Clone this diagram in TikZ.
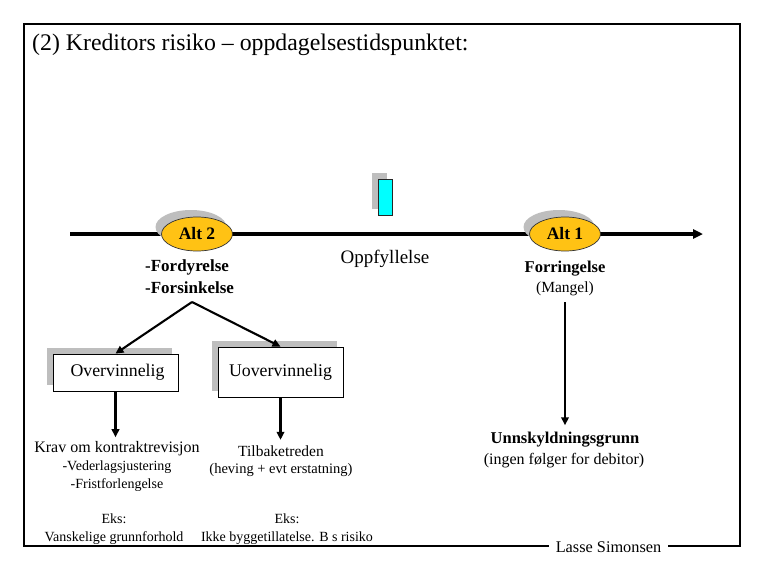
\documentclass[tikz,border=0pt]{standalone}
\usepackage{fontspec}
\setmainfont{Liberation Serif}
\usetikzlibrary{arrows.meta,shapes.geometric,shadows}
\definecolor{altgold}{RGB}{255,194,20}
\definecolor{shadowgray}{RGB}{190,190,190}
\definecolor{cyanbox}{RGB}{0,255,255}
\newcommand{\fsz}[2]{\fontsize{#1}{#2}\selectfont}
\begin{document}
\begin{tikzpicture}[x=1pt,y=-1pt,
  txt/.style={inner sep=0pt, align=center},
  altnode/.style={ellipse, draw=black!80, line width=0.7pt, fill=altgold,
    minimum width=71pt, minimum height=34pt, inner sep=0pt,
    font=\bfseries\fsz{17.5}{20},
    drop shadow={shadow xshift=-6pt, shadow yshift=7pt, fill=shadowgray, opacity=1}},
  boxnode/.style={rectangle, draw=black, line width=0.8pt, fill=white,
    minimum width=125pt, inner sep=0pt, font=\fsz{17.8}{20},
    drop shadow={shadow xshift=-6pt, shadow yshift=6pt, fill=shadowgray, opacity=1}},
  arr/.style={line width=2.1pt, -{Triangle[length=8pt,width=7.5pt]}},
]
\useasboundingbox (0,0) rectangle (765,570);
\fill[white] (0,0) rectangle (765,570);

% frame
\draw[line width=1.3pt] (24,24) rectangle (740,546);

% title
\node[txt, anchor=west, font=\fsz{23.8}{26}] (title) at (32,45) {(2) Kreditors risiko -- oppdagelsestidspunktet:};

% timeline
\coordinate (tl0) at (70,234);
\coordinate (tl1) at (703,234);
\draw[line width=3.5pt, -{Triangle[length=10pt,width=9pt]}] (tl0) -- (tl1);

% Oppfyllelse marker
\fill[shadowgray] (372,173) rectangle (387,209);
\draw[fill=cyanbox, draw=black!85, line width=0.8pt] (378,179) rectangle (392,215);

% ellipses
\node[altnode] (alt2) at (197,234) {Alt 2};
\node[altnode] (alt1) at (565,234) {Alt 1};

% labels under timeline
\node[txt, anchor=north west, align=left, font=\bfseries\fsz{17}{22}] (fors) at (145,259) {-Fordyrelse\\-Forsinkelse};
\node[txt, font=\fsz{19}{22}] (oppf) at (385,259) {Oppfyllelse};
\node[txt, font=\bfseries\fsz{16.5}{20}] (forr) at (565,269) {Forringelse};
\node[txt, font=\fsz{15.5}{18}] (mangel) at (565,289) {(Mangel)};

% boxes
\node[boxnode, minimum height=37pt] (ov) at (115.5,372.5) {\hspace*{4pt}Overvinnelig};
\node[boxnode, minimum height=50pt] (uv) at (280.5,372) {Uovervinnelig};

% fork
\coordinate (fork) at (192,302);
\draw[arr] (fork) -- (ov.north);
\draw[arr] (fork) -- (uv.north);

% consequence texts
\node[txt, font=\fsz{14}{18}] (krav) at (117,466.5) {{\fsz{16}{18}Krav om kontraktrevisjon}\\-Vederlagsjustering\\-Fristforlengelse};
\node[txt, font=\fsz{14.5}{17}] (tilb) at (281,461.5) {{\fsz{15.5}{17}Tilbaketreden}\\(heving + evt erstatning)};
\node[txt, font=\fsz{14}{18}] (eks1) at (114,529) {Eks:\\Vanskelige grunnforhold};
\node[txt, font=\fsz{14}{18}] (eks2) at (287,529) {Eks:\\Ikke byggetillatelse. B s risiko};
\node[txt, font=\bfseries\fsz{16.5}{20}] (unn) at (565,440) {Unnskyldningsgrunn};
\node[txt, font=\fsz{16}{18}] (ingen) at (564,461) {(ingen følger for debitor)};

\draw[arr, shorten >=4pt] (ov.south) -- (ov.south |- krav.north);
\draw[arr, shorten >=6pt] (uv.south) -- (uv.south |- tilb.north);
\draw[arr, shorten <=6pt, shorten >=7pt] (mangel.south) -- (unn.north);

% signature
\node[txt, fill=white, inner xsep=7pt, inner ysep=3pt, font=\fsz{16.3}{18}] (sign) at (608.5,547) {Lasse Simonsen};
\end{tikzpicture}
\end{document}
